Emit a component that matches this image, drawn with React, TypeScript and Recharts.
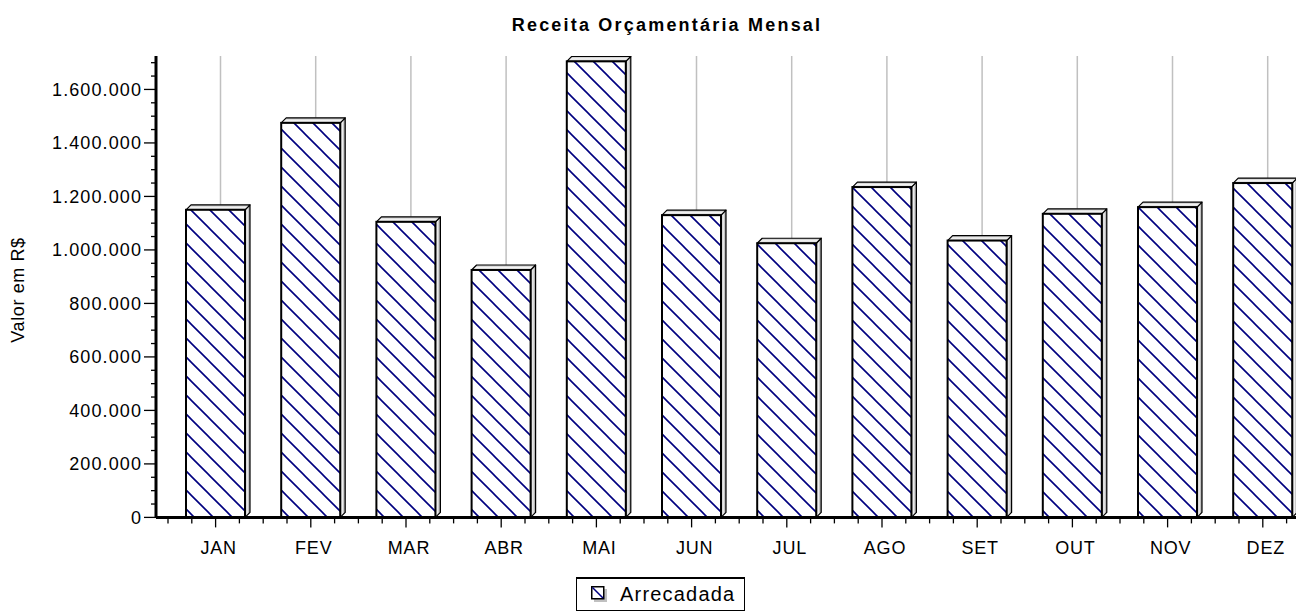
import { BarChart, Bar, XAxis, YAxis, Legend } from 'recharts'

const MONTHS = ['JAN', 'FEV', 'MAR', 'ABR', 'MAI', 'JUN', 'JUL', 'AGO', 'SET', 'OUT', 'NOV', 'DEZ']
const ARRECADADA = [1150000, 1475000, 1105000, 925000, 1705000, 1130000, 1025000, 1235000, 1035000, 1135000, 1160000, 1250000]
const Y_TICKS = [
  0, 50000, 100000, 150000, 200000, 250000, 300000, 350000, 400000, 450000, 500000, 550000,
  600000, 650000, 700000, 750000, 800000, 850000, 900000, 950000, 1000000, 1050000, 1100000,
  1150000, 1200000, 1250000, 1300000, 1350000, 1400000, 1450000, 1500000, 1550000, 1600000,
  1650000, 1700000,
]
const Y_LABELED = [0, 200000, 400000, 600000, 800000, 1000000, 1200000, 1400000, 1600000]

const FONT = '"Liberation Sans", Arial, sans-serif'
const NAVY = '#000080'

// layout
const CHART_W = 1320
const CHART_H = 615
const MARGIN = { top: 56, right: 9.6, left: 0, bottom: 57.6 }
const Y_W = 156
const PAD_LEFT = 12
const BAND = (CHART_W - MARGIN.right - Y_W - PAD_LEFT) / MONTHS.length
const DEPTH = 5
const GRID_TOP = 48

const data = MONTHS.map((m, i) => ({ month: m, arrecadada: ARRECADADA[i] }))

function fmt(v: number) {
  return String(v).replace(/\B(?=(\d{3})+(?!\d))/g, '.')
}

function Bar3D(props: any) {
  const { x, y, width: w, height: h } = props
  if (w == null || h == null) return null
  const d = DEPTH
  const cx = x + w / 2 + d
  return (
    <g>
      <line x1={cx} x2={cx} y1={GRID_TOP} y2={y - d} stroke="#c0c0c0" strokeWidth={1.5} />
      <polygon
        points={`${x + w},${y} ${x + w + d},${y - d} ${x + w + d},${y + h - d} ${x + w},${y + h}`}
        fill="url(#sideGrad)"
        stroke="#000"
        strokeWidth={1.2}
        strokeLinejoin="round"
      />
      <polygon
        points={`${x},${y} ${x + d},${y - d} ${x + w + d},${y - d} ${x + w},${y}`}
        fill="url(#topGrad)"
        stroke="#000"
        strokeWidth={1.2}
        strokeLinejoin="round"
      />
      <rect x={x} y={y} width={w} height={h} fill="url(#hatch)" stroke="#000" strokeWidth={2} />
    </g>
  )
}

function YTick(props: any) {
  const { x, y, payload } = props
  const v = payload.value as number
  const major = Y_LABELED.includes(v)
  return (
    <g>
      <line x1={x - (major ? 12 : 5)} x2={x} y1={y} y2={y} stroke="#000" strokeWidth={1.3} />
      {major && (
        <text
          x={x - 14}
          y={y}
          dy={6.5}
          textAnchor="end"
          fill="#000"
          fontFamily={FONT}
          fontSize={18}
          letterSpacing={1.1}
        >
          {fmt(v)}
        </text>
      )}
    </g>
  )
}

function XTick(props: any) {
  const { x, y, payload } = props
  const minors = [x - BAND / 2, x - BAND / 4, x + BAND / 4]
  return (
    <g>
      {minors.map((mx, i) => (
        <line key={i} x1={mx} x2={mx} y1={y} y2={y + 6} stroke="#000" strokeWidth={1.3} />
      ))}
      <line x1={x} x2={x} y1={y} y2={y + 10} stroke="#000" strokeWidth={1.3} />
      <text
        x={x + 3}
        y={y + 37}
        textAnchor="middle"
        fill="#000"
        fontFamily={FONT}
        fontSize={18}
        letterSpacing={0.8}
      >
        {payload.value}
      </text>
    </g>
  )
}

function LegendBox() {
  return (
    <div
      style={{
        width: 169,
        height: 34,
        boxSizing: 'border-box',
        border: '1px solid #000',
        borderTopWidth: 2,
        background: '#fff',
        display: 'flex',
        alignItems: 'center',
        paddingLeft: 14,
        fontFamily: FONT,
      }}
    >
      <svg width={17} height={17} style={{ marginRight: 12 }}>
        <rect x={3} y={3} width={13} height={13} fill="#c0c0c0" />
        <rect x={0.75} y={0.75} width={12} height={12} fill="#fff" stroke="#000" strokeWidth={1.5} />
        <line x1={1.5} y1={1.5} x2={12} y2={12} stroke={NAVY} strokeWidth={1.5} />
      </svg>
      <span style={{ fontSize: 20, letterSpacing: 1.2, color: '#000' }}>Arrecadada</span>
    </div>
  )
}

export default function App() {
  return (
    <div
      style={{
        position: 'absolute',
        left: 0,
        top: 0,
        width: 1296,
        height: 615,
        overflow: 'hidden',
        background: '#fff',
      }}
    >
      <svg width={0} height={0} style={{ position: 'absolute' }}>
        <defs>
          <pattern id="hatch" patternUnits="userSpaceOnUse" width={19} height={19}>
            <rect width={19} height={19} fill="#fff" />
            <path d="M-1,-1 L20,20 M-1,18 L1,20 M18,-1 L20,1" stroke={NAVY} strokeWidth={1.6} />
          </pattern>
          <linearGradient id="topGrad" x1="0" y1="0" x2="0" y2="1">
            <stop offset="0%" stopColor="#b8b8b8" />
            <stop offset="50%" stopColor="#f4f4f4" />
            <stop offset="100%" stopColor="#c8c8c8" />
          </linearGradient>
          <linearGradient id="sideGrad" x1="0" y1="0" x2="1" y2="0">
            <stop offset="0%" stopColor="#a8a8a8" />
            <stop offset="45%" stopColor="#f0f0f0" />
            <stop offset="100%" stopColor="#8c8c8c" />
          </linearGradient>
        </defs>
      </svg>
      <BarChart width={CHART_W} height={CHART_H} data={data} margin={MARGIN}>
        <XAxis
          dataKey="month"
          padding={{ left: PAD_LEFT, right: 0 }}
          interval={0}
          height={40}
          tickSize={0}
          tickMargin={0}
          tickLine={false}
          axisLine={{ stroke: '#000', strokeWidth: 3 }}
          tick={<XTick />}
        />
        <YAxis
          width={Y_W}
          domain={[0, 1725000]}
          ticks={Y_TICKS}
          interval={0}
          allowDataOverflow
          tickSize={0}
          tickMargin={0}
          tickLine={false}
          axisLine={{ stroke: '#000', strokeWidth: 3 }}
          tick={<YTick />}
          label={{
            content: () => (
              <text
                x={24}
                y={290}
                transform="rotate(-90 24 290)"
                textAnchor="middle"
                fill="#000"
                fontFamily={FONT}
                fontSize={18}
                letterSpacing={0.6}
              >
                Valor em R$
              </text>
            ),
          }}
        />
        <Legend
          layout="horizontal"
          verticalAlign="middle"
          align="center"
          wrapperStyle={{ left: 576, top: 577, width: 169, height: 34 }}
          content={() => <LegendBox />}
        />
        <Bar dataKey="arrecadada" barSize={59} shape={<Bar3D />} isAnimationActive={false} />
      </BarChart>
      <div
        style={{
          position: 'absolute',
          left: 367,
          top: 15,
          width: 600,
          textAlign: 'center',
          fontFamily: FONT,
          fontWeight: 'bold',
          fontSize: 18,
          letterSpacing: 2.2,
          color: '#000',
        }}
      >
        Receita Orçamentária Mensal
      </div>
    </div>
  )
}
